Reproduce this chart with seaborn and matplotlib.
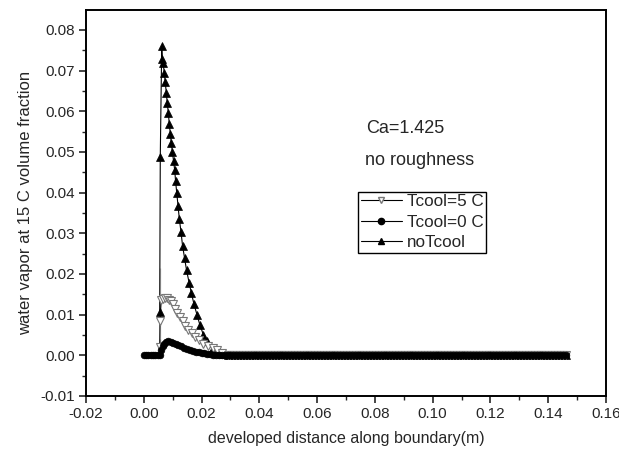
import numpy as np
import pandas as pd
import matplotlib
matplotlib.use("Agg")
import matplotlib.pyplot as plt
import seaborn as sns
from matplotlib.ticker import MultipleLocator
from matplotlib.lines import Line2D

# --- data ---
# shared flat tail (value 0) along the rest of the boundary
tail_x = [0.029, 0.030, 0.031, 0.032, 0.033, 0.034, 0.035, 0.036, 0.037, 0.038,
          0.039, 0.040, 0.041, 0.042, 0.043, 0.044, 0.045, 0.046, 0.047, 0.048,
          0.049, 0.050, 0.051, 0.052, 0.053, 0.054, 0.055, 0.056, 0.057, 0.058,
          0.059, 0.060, 0.061, 0.062, 0.063, 0.064, 0.065, 0.066, 0.067, 0.068,
          0.069, 0.070, 0.071, 0.072, 0.073, 0.074, 0.075, 0.076, 0.077, 0.078,
          0.079, 0.080, 0.081, 0.082, 0.083, 0.084, 0.085, 0.086, 0.087, 0.088,
          0.089, 0.090, 0.091, 0.092, 0.093, 0.094, 0.095, 0.096, 0.097, 0.098,
          0.099, 0.100, 0.101, 0.102, 0.103, 0.104, 0.105, 0.106, 0.107, 0.108,
          0.109, 0.110, 0.111, 0.112, 0.113, 0.114, 0.115, 0.116, 0.117, 0.118,
          0.119, 0.120, 0.121, 0.122, 0.123, 0.124, 0.125, 0.126, 0.127, 0.128,
          0.129, 0.130, 0.131, 0.132, 0.133, 0.134, 0.135, 0.136, 0.137, 0.138,
          0.139, 0.140, 0.141, 0.142, 0.143, 0.144, 0.145, 0.146]
tail_y = [0.0] * len(tail_x)

notcool_x = [0.0055, 0.0055, 0.0057, 0.0062, 0.0064, 0.0067, 0.0071, 0.0074,
             0.0078, 0.0081, 0.0085, 0.0088, 0.0092, 0.0095, 0.0099, 0.0103,
             0.0107, 0.0110, 0.0114, 0.0118, 0.0123, 0.0129, 0.0134, 0.0141,
             0.0148, 0.0157, 0.0165, 0.0174, 0.0184, 0.0194, 0.0206, 0.0220,
             0.0240, 0.0258, 0.0275]
notcool_y = [0.0000, 0.0215, 0.0488, 0.0760, 0.0728, 0.0718, 0.0694, 0.0671,
             0.0646, 0.0620, 0.0596, 0.0569, 0.0544, 0.0522, 0.0499, 0.0477,
             0.0455, 0.0428, 0.0399, 0.0368, 0.0335, 0.0302, 0.0270, 0.0239,
             0.0209, 0.0178, 0.0152, 0.0125, 0.0100, 0.0075, 0.0051, 0.0034,
             0.0018, 0.0010, 0.0004]

t5_x = [0.0055, 0.0055, 0.0056, 0.0060, 0.0066, 0.0073, 0.0080, 0.0087,
        0.0093, 0.0100, 0.0108, 0.0116, 0.0125, 0.0135, 0.0143, 0.0154,
        0.0166, 0.0177, 0.0192, 0.0206, 0.0223, 0.0240, 0.0255, 0.0270]
t5_y = [0.0000, 0.0039, 0.0084, 0.0135, 0.0139, 0.0141, 0.0140, 0.0137,
        0.0133, 0.0125, 0.0114, 0.0104, 0.0094, 0.0084, 0.0073, 0.0063,
        0.0055, 0.0045, 0.0037, 0.0029, 0.0022, 0.0018, 0.0012, 0.0006]

t0_x = [0.0000, 0.0008, 0.0016, 0.0024, 0.0032, 0.0040, 0.0048, 0.0055,
        0.0060, 0.0065, 0.0070, 0.0077, 0.0085, 0.0093, 0.0101, 0.0110,
        0.0120, 0.0130, 0.0140, 0.0150, 0.0160, 0.0170, 0.0180, 0.0190,
        0.0200, 0.0210, 0.0220, 0.0230, 0.0240, 0.0250, 0.0260, 0.0270,
        0.0280]
t0_y = [0.0000, 0.0000, 0.0000, 0.0000, 0.0000, 0.0000, 0.0000, 0.0000,
        0.0012, 0.0022, 0.0029, 0.0033, 0.0034, 0.0033, 0.0031, 0.0028,
        0.0025, 0.0022, 0.0019, 0.0016, 0.0013, 0.0011, 0.0009, 0.0007,
        0.0006, 0.0005, 0.0004, 0.0003, 0.0002, 0.0001, 0.0001, 0.0000,
        0.0000]

x_ticks = [-0.02, 0.00, 0.02, 0.04, 0.06, 0.08, 0.10, 0.12, 0.14, 0.16]
y_ticks = [-0.01, 0.00, 0.01, 0.02, 0.03, 0.04, 0.05, 0.06, 0.07, 0.08]

sns.set_style("ticks")
plt.rcParams['font.family'] = ['Liberation Sans', 'DejaVu Sans']

fig = plt.figure(figsize=(6.19, 4.55), dpi=100)
ax = fig.add_axes([0.139, 0.1297, 0.840, 0.8483])

# noTcool: filled black up-triangles
d = pd.DataFrame({'x': notcool_x + tail_x, 'y': notcool_y + tail_y})
sns.lineplot(data=d, x='x', y='y', sort=False, ax=ax, color='black', lw=0.8,
             marker='^', markersize=6, markeredgewidth=0.5,
             markerfacecolor='black', markeredgecolor='black')

# Tcool=5 C: open grey down-triangles
d = pd.DataFrame({'x': t5_x + tail_x, 'y': t5_y + tail_y})
sns.lineplot(data=d, x='x', y='y', sort=False, ax=ax, color='black', lw=0.8,
             marker='v', markersize=5.5, markeredgewidth=0.8,
             markerfacecolor='white', markeredgecolor='#777777')

# Tcool=0 C: filled black circles
d = pd.DataFrame({'x': t0_x + tail_x, 'y': t0_y + tail_y})
sns.lineplot(data=d, x='x', y='y', sort=False, ax=ax, color='black', lw=0.8,
             marker='o', markersize=4.8, markeredgewidth=0.5,
             markerfacecolor='black', markeredgecolor='black')

ax.set_xlim(-0.02, 0.16)
ax.set_ylim(-0.01, 0.0849)
ax.set_xticks(x_ticks)
ax.set_xticklabels([f"{v:.2f}" for v in x_ticks])
ax.set_yticks(y_ticks)
ax.set_yticklabels([f"{v:.2f}" for v in y_ticks])
ax.xaxis.set_minor_locator(MultipleLocator(0.01))
ax.yaxis.set_minor_locator(MultipleLocator(0.005))
ax.tick_params(which='major', direction='out', length=5, width=1.2,
               labelsize=11, pad=3)
ax.tick_params(which='minor', direction='out', length=3, width=1.0)
for s in ax.spines.values():
    s.set_visible(True)
    s.set_linewidth(1.4)
    s.set_color('black')

ax.set_xlabel('developed distance along boundary(m)', fontsize=11.5, labelpad=7)
ax.set_ylabel('water vapor at 15 C volume fraction', fontsize=12, labelpad=5)

ax.text(0.0904, 0.0557, 'Ca=1.425', ha='center', va='center', fontsize=13)
ax.text(0.0956, 0.0480, 'no roughness', ha='center', va='center', fontsize=13)

handles = [
    Line2D([], [], color='black', lw=0.8, marker='v', markersize=4,
           markerfacecolor='white', markeredgecolor='#777777'),
    Line2D([], [], color='black', lw=0.8, marker='o', markersize=4.5,
           markerfacecolor='black', markeredgecolor='black'),
    Line2D([], [], color='black', lw=0.8, marker='^', markersize=4,
           markerfacecolor='black', markeredgecolor='black'),
]
leg = ax.legend(handles, ['Tcool=5 C', 'Tcool=0 C', 'noTcool'],
                loc='upper left', bbox_to_anchor=(0.523, 0.529),
                fontsize=12.3, frameon=True, fancybox=False, framealpha=1,
                edgecolor='black', handlelength=2.4, handletextpad=0.3,
                borderpad=0.15, labelspacing=0.32, borderaxespad=0)
leg.get_frame().set_linewidth(1.0)

fig.savefig('out.png', dpi=100)
